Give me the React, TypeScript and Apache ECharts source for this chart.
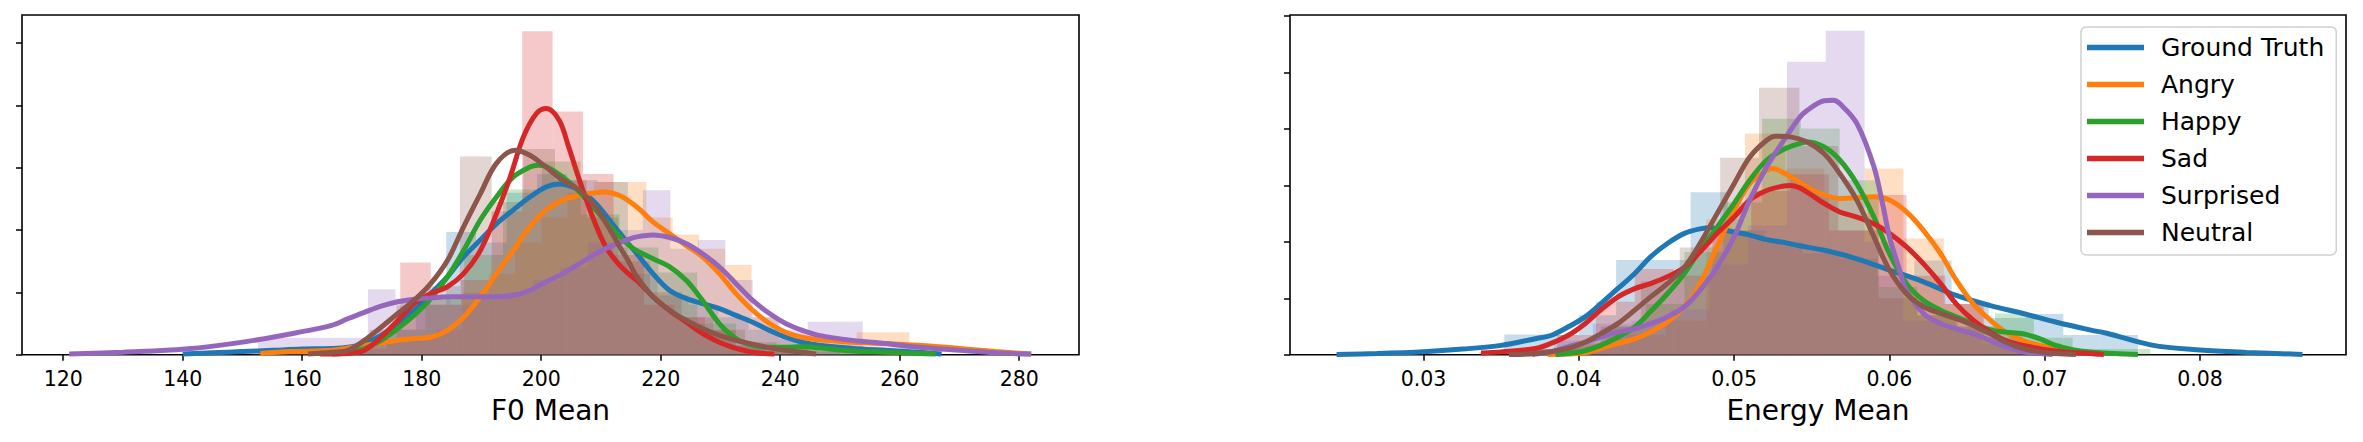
import React, { useEffect, useRef } from "react";
import * as echarts from "echarts";

const seriesNames = ["Ground Truth", "Angry", "Happy", "Sad", "Surprised", "Neutral"];
const seriesColors = ["#1f77b4", "#ff7f0e", "#2ca02c", "#d62728", "#9467bd", "#8c564b"];

const f0TickValues = [120, 140, 160, 180, 200, 220, 240, 260, 280];
const f0DensityTicks = [0, 0.01, 0.02, 0.03, 0.04, 0.05];
const energyTickValues = [0.03, 0.04, 0.05, 0.06, 0.07, 0.08];
const energyDensityTicks = [0, 10, 20, 30, 40, 50, 60];

// ---------- F0 Mean: histogram bins (edges) and densities ----------
const f0EdgesGroundTruth = [153.7, 158.7, 163.8, 168.9, 173.9, 179.0, 184.1, 189.1, 194.2, 199.3, 204.3, 209.4, 214.5, 219.5, 224.6, 229.6, 234.7, 239.8, 244.8, 249.9, 255.0, 260.0, 265.0];
const f0HeightsGroundTruth = [0.0008, 0.0008, 0.0008, 0.002, 0.004, 0.008, 0.0197, 0.018, 0.026, 0.029, 0.028, 0.0277, 0.013, 0.0095, 0.008, 0.006, 0.004, 0.0025, 0.0015, 0.001, 0.0005, 0.0005];
const f0EdgesAngry = [151.6, 156.0, 160.4, 164.8, 169.2, 173.6, 178.0, 182.4, 186.8, 191.2, 195.6, 200.0, 204.4, 208.8, 213.2, 217.6, 222.0, 226.4, 230.8, 235.2, 239.6, 244.0, 248.4, 252.8, 257.2, 261.6];
const f0HeightsAngry = [0.0005, 0.0005, 0.001, 0.001, 0.002, 0.002, 0.0028, 0.004, 0.01, 0.013, 0.018, 0.022, 0.026, 0.0277, 0.0277, 0.022, 0.0193, 0.017, 0.0144, 0.006, 0.003, 0.002, 0.002, 0.0036, 0.0036];
const f0EdgesHappy = [167.6, 174.1, 180.6, 187.1, 193.6, 200.1, 206.6, 213.1, 219.6, 226.1, 232.6, 239.1, 245.6, 252.1, 258.6, 265.1];
const f0HeightsHappy = [0.001, 0.004, 0.009, 0.016, 0.0265, 0.031, 0.0225, 0.0172, 0.0132, 0.005, 0.0015, 0.001, 0.0015, 0.0005, 0.0005];
const f0EdgesSad = [161.1, 166.2, 171.3, 176.4, 181.5, 186.6, 191.7, 196.8, 201.9, 207.0, 212.1, 217.2, 222.3, 227.4, 232.5, 237.6, 242.7];
const f0HeightsSad = [0.0005, 0.0005, 0.004, 0.0148, 0.008, 0.012, 0.023, 0.0519, 0.039, 0.029, 0.016, 0.008, 0.006, 0.0039, 0.0015, 0.0005];
const f0EdgesSurprised = [152.6, 157.2, 161.8, 166.4, 171.0, 175.6, 180.2, 184.8, 189.4, 194.0, 198.6, 203.2, 207.8, 212.4, 217.0, 221.6, 226.2, 230.8, 235.4, 240.0, 244.6, 249.2, 253.8];
const f0HeightsSurprised = [0.0027, 0.0027, 0.0027, 0.0027, 0.0105, 0.009, 0.0095, 0.008, 0.009, 0.01, 0.012, 0.014, 0.018, 0.02, 0.0264, 0.017, 0.0184, 0.012, 0.006, 0.004, 0.0053, 0.0053];
const f0EdgesNeutral = [165.2, 170.5, 175.8, 181.1, 186.4, 191.7, 197.0, 202.3, 207.6, 212.9, 218.2, 223.5, 228.8, 234.1, 239.4, 244.7, 250.0];
const f0HeightsNeutral = [0.0008, 0.0025, 0.0079, 0.011, 0.0318, 0.0245, 0.033, 0.028, 0.022, 0.015, 0.01, 0.006, 0.004, 0.002, 0.001, 0.0005];

// ---------- F0 Mean: KDE curves ----------
const f0KdeGroundTruth = [[140, 0.0001], [145, 0.0003], [150, 0.0005], [155, 0.0007], [160, 0.0009], [164.9, 0.001], [167.7, 0.0012], [170.4, 0.0018], [173.2, 0.0031], [176, 0.005], [178.7, 0.0071], [181.5, 0.0098], [184.3, 0.0125], [187, 0.0157], [189.8, 0.0184], [192.5, 0.021], [195.3, 0.0232], [198.1, 0.0253], [200.8, 0.0269], [203, 0.0274], [206.4, 0.0264], [209.1, 0.0243], [211.9, 0.021], [214.6, 0.0178], [216, 0.0162], [218.7, 0.013], [221.5, 0.0103], [224.3, 0.009], [227, 0.0082], [229.8, 0.0074], [232.6, 0.0063], [235.4, 0.0052], [238.2, 0.0039], [240.9, 0.0028], [243.7, 0.002], [246.5, 0.0015], [252.1, 0.001], [257.6, 0.0007], [263.2, 0.0004], [267, 0.0001]];
const f0KdeAngry = [[153, 0.0002], [158, 0.0005], [164.9, 0.0007], [170.4, 0.0015], [176, 0.0023], [178.7, 0.0026], [181.5, 0.0028], [184.3, 0.0039], [187, 0.006], [189.8, 0.0093], [192.5, 0.013], [195.3, 0.0167], [198.1, 0.0205], [200.8, 0.0232], [203.6, 0.0248], [206.4, 0.0256], [209.1, 0.026], [210.5, 0.0261], [213.2, 0.0255], [216, 0.0237], [218.7, 0.0213], [221.5, 0.0194], [224.3, 0.0175], [227, 0.0157], [229.8, 0.013], [232.6, 0.0098], [235.4, 0.0071], [238.2, 0.005], [240.9, 0.0036], [243.7, 0.0028], [246.5, 0.0024], [249.3, 0.0022], [252.1, 0.002], [257.6, 0.0018], [263.2, 0.0015], [270, 0.001], [276, 0.0005], [282, 0.0001]];
const f0KdeHappy = [[165, 0.0001], [167.7, 0.0003], [170.4, 0.001], [173.2, 0.0023], [176, 0.0042], [178.7, 0.0063], [181.5, 0.009], [184.3, 0.0125], [187, 0.0167], [189.8, 0.0216], [192.5, 0.0253], [195.3, 0.0285], [198.1, 0.0301], [199.4, 0.0304], [200.8, 0.0302], [203.6, 0.0285], [206.4, 0.0261], [209.1, 0.0232], [211.9, 0.0202], [214.6, 0.0176], [216, 0.0167], [218.7, 0.0154], [221.5, 0.0141], [224.3, 0.0119], [227, 0.0087], [229.8, 0.005], [232.6, 0.0026], [235.4, 0.0015], [238.2, 0.0012], [240.9, 0.0012], [243.7, 0.0013], [246.5, 0.0011], [249.3, 0.0008], [252.1, 0.0006], [257.6, 0.0004], [263.2, 0.0002], [266, 0.0001]];
const f0KdeSad = [[163, 0.0001], [167.7, 0.0002], [170.4, 0.0007], [173.2, 0.0028], [176, 0.0055], [178.7, 0.0082], [181.5, 0.0098], [184.3, 0.0109], [187, 0.013], [189.8, 0.0167], [192.5, 0.0226], [194.8, 0.0285], [197, 0.0349], [199.2, 0.0387], [200.9, 0.0395], [203, 0.0376], [204.6, 0.0333], [206.4, 0.028], [208.6, 0.0221], [210.8, 0.0173], [213, 0.0145], [214.6, 0.013], [216, 0.0119], [218.7, 0.0093], [221.5, 0.0071], [224.3, 0.0052], [227, 0.0034], [229.8, 0.002], [232.6, 0.001], [235.4, 0.0004], [239, 0.0001]];
const f0KdeSurprised = [[121, 0.0001], [130, 0.0004], [140.4, 0.0009], [150.6, 0.0021], [160, 0.0037], [164.9, 0.0047], [167.7, 0.0058], [170.4, 0.0068], [173.2, 0.0078], [176, 0.0085], [178.7, 0.0089], [181.5, 0.0091], [184.3, 0.0093], [189.8, 0.0093], [192.5, 0.0093], [195.3, 0.0095], [198.1, 0.0103], [200.8, 0.0117], [203.6, 0.013], [206.4, 0.0146], [209.1, 0.0162], [211.9, 0.0175], [214.6, 0.0185], [216, 0.0189], [218.7, 0.0192], [221.5, 0.0188], [224.3, 0.0178], [227, 0.0162], [229.8, 0.0141], [232.6, 0.0114], [235.4, 0.0087], [238.2, 0.0066], [240.9, 0.005], [243.7, 0.0039], [246.5, 0.0031], [252.1, 0.0023], [257.6, 0.0018], [263.2, 0.0012], [270, 0.0007], [276, 0.0003], [282, 0.0001]];
const f0KdeNeutral = [[161, 0.0001], [164.9, 0.0004], [167.7, 0.0007], [170.4, 0.0023], [173.2, 0.0044], [176, 0.0066], [178.7, 0.0087], [181.5, 0.0114], [184.3, 0.0151], [187, 0.0205], [189.8, 0.0258], [192.5, 0.0307], [195.6, 0.0328], [198.1, 0.032], [200.8, 0.0301], [203.6, 0.028], [206.4, 0.0264], [209.1, 0.0237], [211.9, 0.0194], [213.2, 0.0172], [214.6, 0.015], [216, 0.0125], [218.7, 0.0093], [221.5, 0.0071], [224.3, 0.0055], [227, 0.0042], [229.8, 0.0031], [232.6, 0.0023], [235.4, 0.0017], [238.2, 0.0011], [240.9, 0.0007], [243.7, 0.0004], [246, 0.0001]];

// ---------- Energy Mean: histogram bins (edges) and densities ----------
const enEdgesGroundTruth = [0.0352, 0.0376, 0.04, 0.0424, 0.0448, 0.0472, 0.0496, 0.052, 0.0544, 0.0568, 0.0592, 0.0616, 0.064, 0.0664, 0.0688, 0.0712, 0.0736, 0.076];
const enHeightsGroundTruth = [3.6, 3.5, 7, 16.8, 16.8, 28.8, 22, 20, 18, 17, 14, 16.7, 9, 6.5, 7.2, 3.5, 3.5];
const enEdgesAngry = [0.038, 0.0405, 0.0431, 0.0456, 0.0482, 0.0507, 0.0533, 0.0558, 0.0584, 0.0609, 0.0635, 0.066, 0.0686, 0.0711, 0.0737];
const enHeightsAngry = [0.5, 2, 3.5, 6, 24, 39.2, 33, 28, 33, 20.6, 9, 4, 2, 0.7];
const enEdgesHappy = [0.0368, 0.0393, 0.0418, 0.0443, 0.0468, 0.0493, 0.0518, 0.0543, 0.0568, 0.0593, 0.0618, 0.0643, 0.0668, 0.0693, 0.0718, 0.0743, 0.0768];
const enHeightsHappy = [0.2, 2, 5, 9, 18.2, 27, 41.8, 40.1, 30.9, 12, 7, 5, 7.3, 3, 1, 1];
const enEdgesSad = [0.0336, 0.0361, 0.0386, 0.0411, 0.0436, 0.0461, 0.0486, 0.0511, 0.0536, 0.0561, 0.0586, 0.0611, 0.0636, 0.0661, 0.0686, 0.0711, 0.0736];
const enHeightsSad = [0.5, 1, 3.5, 9.4, 15.2, 14, 22, 29, 32, 22, 28.3, 14, 9, 3, 1, 0.5];
const enEdgesSurprised = [0.0359, 0.0384, 0.0409, 0.0434, 0.0459, 0.0484, 0.0509, 0.0534, 0.0559, 0.0584, 0.0609, 0.0634, 0.0659, 0.0684, 0.0709];
const enHeightsSurprised = [1, 2.5, 5.5, 6, 8, 16, 22.9, 51.9, 57.4, 20, 6, 4.5, 2, 0.5];
const enEdgesNeutral = [0.0363, 0.0389, 0.0414, 0.044, 0.0465, 0.0491, 0.0516, 0.0542, 0.0567, 0.0593, 0.0618, 0.0644, 0.0669, 0.0695];
const enHeightsNeutral = [0.6, 1.5, 5, 13, 19, 34.9, 47.3, 37, 22, 10, 7, 5, 2];

// ---------- Energy Mean: KDE curves ----------
const enKdeGroundTruth = [[0.0244, 0.02], [0.027, 0.2], [0.03, 0.53], [0.0325, 1.0], [0.035, 1.65], [0.0372, 2.84], [0.0382, 3.4], [0.0393, 4.9], [0.0404, 6.7], [0.0414, 9.0], [0.0425, 11.7], [0.0436, 14.4], [0.0446, 17.3], [0.0457, 19.7], [0.0468, 21.5], [0.0478, 22.3], [0.0485, 22.5], [0.0495, 22.0], [0.051, 21.2], [0.0521, 20.4], [0.0532, 19.9], [0.0542, 19.3], [0.0558, 18.5], [0.0579, 17.0], [0.06, 15.0], [0.0622, 12.9], [0.0643, 10.5], [0.0665, 8.7], [0.0686, 7.3], [0.0707, 5.8], [0.0729, 4.4], [0.074, 3.8], [0.0769, 1.7], [0.08, 0.83], [0.083, 0.4], [0.0866, 0.05]];
const enKdeAngry = [[0.038, 0.05], [0.0404, 0.3], [0.0414, 1.1], [0.0425, 2.0], [0.0436, 2.8], [0.0446, 4.0], [0.0457, 5.8], [0.0468, 8.5], [0.0478, 12.6], [0.0489, 19.1], [0.05, 25.6], [0.051, 30.3], [0.0521, 32.7], [0.0525, 33.0], [0.0532, 32.2], [0.0542, 30.6], [0.0547, 29.7], [0.0558, 28.3], [0.0568, 27.7], [0.0579, 27.8], [0.059, 28.0], [0.06, 27.4], [0.0611, 25.3], [0.0622, 22.0], [0.0633, 17.9], [0.0643, 13.2], [0.0654, 9.0], [0.0665, 6.1], [0.0675, 4.0], [0.0686, 2.5], [0.0697, 1.65], [0.0707, 1.1], [0.0718, 0.6], [0.0729, 0.3], [0.0735, 0.1]];
const enKdeHappy = [[0.0385, 0.05], [0.0393, 0.2], [0.0404, 0.7], [0.0414, 1.65], [0.0425, 3.1], [0.0436, 4.9], [0.0446, 7.6], [0.0457, 10.8], [0.0468, 14.4], [0.0478, 18.5], [0.0489, 22.6], [0.05, 26.8], [0.051, 30.9], [0.0521, 34.5], [0.0532, 36.4], [0.0542, 37.4], [0.0547, 37.7], [0.0558, 36.8], [0.0568, 34.5], [0.0579, 30.3], [0.059, 24.4], [0.06, 17.9], [0.0611, 12.6], [0.0622, 9.6], [0.0633, 7.9], [0.0643, 6.7], [0.0654, 5.5], [0.0665, 4.4], [0.0675, 4.0], [0.0686, 3.7], [0.0697, 2.8], [0.0707, 1.65], [0.0718, 0.9], [0.0729, 0.5], [0.0745, 0.2], [0.076, 0.05]];
const enKdeSad = [[0.0337, 0.3], [0.035, 0.5], [0.0372, 1.1], [0.0382, 2.0], [0.0393, 3.4], [0.0404, 5.5], [0.0414, 7.9], [0.0425, 10.2], [0.0436, 11.7], [0.0446, 12.6], [0.0457, 13.8], [0.0468, 15.5], [0.0478, 18.2], [0.0489, 21.5], [0.05, 24.4], [0.051, 27.4], [0.0521, 29.1], [0.0532, 29.9], [0.0536, 30.0], [0.0542, 29.6], [0.0547, 28.8], [0.0558, 26.8], [0.0568, 25.3], [0.0579, 24.4], [0.059, 23.2], [0.06, 21.5], [0.0611, 19.1], [0.0622, 16.1], [0.0633, 12.6], [0.0643, 9.0], [0.0654, 6.1], [0.0665, 4.0], [0.0675, 2.5], [0.0686, 1.65], [0.0707, 0.65], [0.0729, 0.2], [0.0738, 0.05]];
const enKdeSurprised = [[0.037, 0.05], [0.0382, 0.5], [0.0393, 1.4], [0.0404, 2.2], [0.0414, 3.1], [0.0425, 4.0], [0.0436, 4.6], [0.0446, 5.5], [0.0457, 6.7], [0.0468, 8.5], [0.0478, 11.4], [0.0489, 15.5], [0.05, 20.9], [0.051, 27.4], [0.0521, 33.3], [0.0532, 38.0], [0.0542, 42.0], [0.0547, 43.3], [0.0558, 45.0], [0.0564, 45.1], [0.0568, 44.5], [0.0579, 41.0], [0.059, 33.3], [0.0596, 26.2], [0.06, 20.9], [0.0606, 15.5], [0.0611, 11.4], [0.0622, 7.3], [0.0633, 5.5], [0.0643, 4.6], [0.0654, 3.7], [0.0665, 2.5], [0.0675, 1.4], [0.0686, 0.5], [0.0697, 0.2], [0.0705, 0.05]];
const enKdeNeutral = [[0.0355, 0.05], [0.0372, 0.2], [0.0393, 1.1], [0.0404, 2.2], [0.0414, 3.7], [0.0425, 5.5], [0.0436, 7.9], [0.0446, 10.2], [0.0457, 12.6], [0.0468, 15.5], [0.0478, 19.7], [0.0489, 25.0], [0.05, 30.3], [0.051, 35.0], [0.0521, 38.0], [0.0527, 38.7], [0.0536, 38.6], [0.0547, 37.7], [0.0558, 35.6], [0.0568, 32.1], [0.0579, 27.4], [0.059, 20.9], [0.06, 15.0], [0.0611, 10.8], [0.0622, 8.5], [0.0633, 7.3], [0.0643, 6.4], [0.0654, 5.2], [0.0665, 3.7], [0.0675, 2.2], [0.0686, 1.1], [0.0697, 0.5], [0.0707, 0.2], [0.072, 0.05]];

const f0Edges = [f0EdgesGroundTruth, f0EdgesAngry, f0EdgesHappy, f0EdgesSad, f0EdgesSurprised, f0EdgesNeutral];
const f0Heights = [f0HeightsGroundTruth, f0HeightsAngry, f0HeightsHappy, f0HeightsSad, f0HeightsSurprised, f0HeightsNeutral];
const f0Kdes = [f0KdeGroundTruth, f0KdeAngry, f0KdeHappy, f0KdeSad, f0KdeSurprised, f0KdeNeutral];
const enEdges = [enEdgesGroundTruth, enEdgesAngry, enEdgesHappy, enEdgesSad, enEdgesSurprised, enEdgesNeutral];
const enHeights = [enHeightsGroundTruth, enHeightsAngry, enHeightsHappy, enHeightsSad, enHeightsSurprised, enHeightsNeutral];
const enKdes = [enKdeGroundTruth, enKdeAngry, enKdeHappy, enKdeSad, enKdeSurprised, enKdeNeutral];

const FONT = "DejaVu Sans";

function histSeries(name: string, color: string, edges: number[], heights: number[], idx: number) {
  const fill = echarts.color.modifyAlpha(color, 0.25);
  return {
    type: "custom",
    name: name + " (hist)",
    xAxisIndex: idx,
    yAxisIndex: idx,
    silent: true,
    data: heights.map((h, i) => [edges[i], edges[i + 1], h]),
    encode: { x: [0, 1], y: 2 },
    renderItem: (_params: any, api: any) => {
      const p0 = api.coord([api.value(0), api.value(2)]);
      const p1 = api.coord([api.value(1), 0]);
      return {
        type: "rect",
        shape: { x: p0[0], y: p0[1], width: p1[0] - p0[0], height: p1[1] - p0[1] },
        style: { fill },
      };
    },
  };
}

function kdeSeries(name: string, color: string, data: number[][], idx: number) {
  return {
    type: "line",
    name,
    xAxisIndex: idx,
    yAxisIndex: idx,
    data,
    smooth: 0.35,
    symbol: "none",
    showSymbol: false,
    silent: true,
    lineStyle: { color, width: 5, cap: "butt" },
    itemStyle: { color },
    emphasis: { disabled: true },
  };
}

function xAxisCfg(idx: number, min: number, max: number, ticks: number[], title: string) {
  return {
    type: "value",
    gridIndex: idx,
    min,
    max,
    splitLine: { show: false },
    axisLine: { show: false },
    axisTick: { show: true, customValues: ticks, length: 6, inside: false, lineStyle: { color: "#000", width: 1.5 } },
    axisLabel: { show: true, customValues: ticks, color: "#000", fontSize: 20.5, fontFamily: FONT, margin: 13.5 },
    name: title,
    nameLocation: "middle",
    nameGap: 42,
    nameTextStyle: { color: "#000", fontSize: 28, fontFamily: FONT },
  };
}

function yAxisCfg(idx: number, max: number, ticks: number[]) {
  return {
    type: "value",
    gridIndex: idx,
    min: 0,
    max,
    splitLine: { show: false },
    axisLine: { show: false },
    axisLabel: { show: false },
    axisTick: { show: true, customValues: ticks, length: 6, inside: false, lineStyle: { color: "#000", width: 1.5 } },
  };
}

export default function App() {
  const ref = useRef<HTMLDivElement>(null);
  useEffect(() => {
    if (!ref.current) return;
    const chart = echarts.init(ref.current, undefined, { renderer: "svg" });
    const series: any[] = [];
    seriesNames.forEach((n, i) => {
      series.push(histSeries(n, seriesColors[i], f0Edges[i], f0Heights[i], 0));
      series.push(kdeSeries(n, seriesColors[i], f0Kdes[i], 0));
    });
    seriesNames.forEach((n, i) => {
      series.push(histSeries(n, seriesColors[i], enEdges[i], enHeights[i], 1));
      series.push(kdeSeries(n, seriesColors[i], enKdes[i], 1));
    });
    chart.setOption({
      animation: false,
      backgroundColor: "#ffffff",
      textStyle: { fontFamily: FONT },
      grid: [
        { left: 22, top: 15, width: 1057, height: 339.7, show: true, borderColor: "#000", borderWidth: 1.6, backgroundColor: "transparent" },
        { left: 1290, top: 15, width: 1056, height: 339.7, show: true, borderColor: "#000", borderWidth: 1.6, backgroundColor: "transparent" },
      ],
      xAxis: [
        xAxisCfg(0, 113.1, 290.0, f0TickValues, "F0 Mean"),
        xAxisCfg(1, 0.0214, 0.0894, energyTickValues, "Energy Mean"),
      ],
      yAxis: [yAxisCfg(0, 0.0545, f0DensityTicks), yAxisCfg(1, 60.2, energyDensityTicks)],
      legend: {
        data: seriesNames,
        orient: "vertical",
        left: 2081,
        top: 27,
        icon: "rect",
        itemWidth: 57,
        itemHeight: 5.5,
        itemGap: 12,
        padding: [8, 12, 10, 6],
        borderColor: "#d0d0d0",
        borderWidth: 1.5,
        borderRadius: 5,
        backgroundColor: "rgba(255,255,255,0.8)",
        selectedMode: false,
        textStyle: { color: "#000", fontSize: 25, fontFamily: FONT, padding: [0, 0, 0, 12] },
      },
      series,
    });
    return () => chart.dispose();
  }, []);
  return (
    <div
      ref={ref}
      style={{ position: "absolute", left: 0, top: 0, width: "2363px", height: "442px", background: "#fff" }}
    />
  );
}
